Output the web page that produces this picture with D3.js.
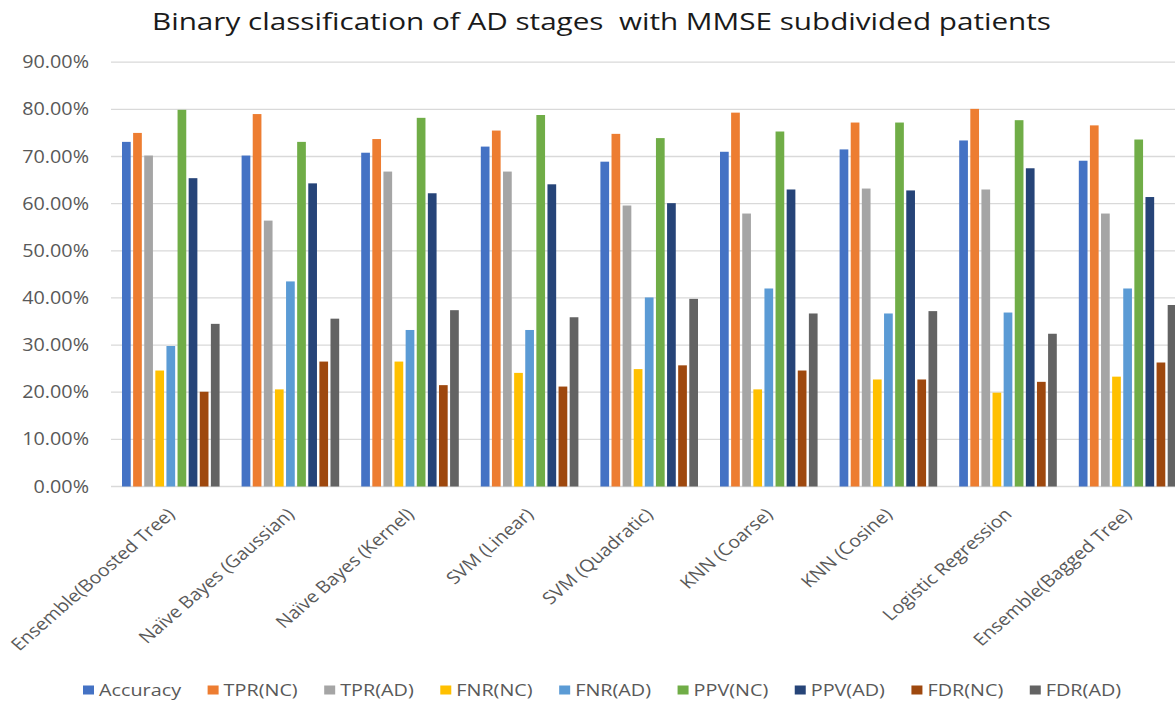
<!DOCTYPE html>
<html><head><meta charset="utf-8">
<script src="https://cdn.jsdelivr.net/npm/d3@7"></script>
<style>body{margin:0;background:#fff;} svg{display:block;} text{white-space:pre;}</style>
</head><body>
<svg id="chart" width="1175" height="705"></svg>
<script>
const categories = ["Ensemble(Boosted Tree)","Naïve Bayes (Gaussian)","Naïve Bayes (Kernel)","SVM (Linear)","SVM (Quadratic)","KNN (Coarse)","KNN (Cosine)","Logistic Regression","Ensemble(Bagged Tree)"];
const seriesNames = ["Accuracy","TPR(NC)","TPR(AD)","FNR(NC)","FNR(AD)","PPV(NC)","PPV(AD)","FDR(NC)","FDR(AD)"];
const seriesColors = ["#4472C4","#ED7D31","#A5A5A5","#FFC000","#5B9BD5","#70AD47","#264478","#9E480E","#636363"];
const accuracy = [73.1,70.2,70.8,72.1,68.9,71.0,71.5,73.4,69.1];
const tprNC    = [75.0,79.0,73.7,75.5,74.8,79.3,77.2,80.1,76.6];
const tprAD    = [70.2,56.4,66.8,66.8,59.6,57.9,63.2,63.0,57.9];
const fnrNC    = [24.6,20.6,26.5,24.1,24.9,20.6,22.7,19.9,23.3];
const fnrAD    = [29.8,43.5,33.2,33.2,40.1,42.0,36.7,36.9,42.0];
const ppvNC    = [79.9,73.1,78.2,78.8,73.9,75.3,77.2,77.7,73.6];
const ppvAD    = [65.4,64.3,62.2,64.1,60.1,63.0,62.8,67.5,61.4];
const fdrNC    = [20.1,26.5,21.5,21.2,25.7,24.6,22.7,22.2,26.3];
const fdrAD    = [34.5,35.6,37.4,35.9,39.8,36.7,37.2,32.4,38.5];
const yTicks = [0,10,20,30,40,50,60,70,80,90];
const title = "Binary classification of AD stages  with MMSE subdivided patients";

const seriesValues = [accuracy,tprNC,tprAD,fnrNC,fnrAD,ppvNC,ppvAD,fdrNC,fdrAD];

const svg = d3.select("#chart");
const font = "'Open Sans', 'Noto Sans', sans-serif";
const textColor = "#595959";
const plotLeft = 111, plotBottom = 486.5, plotTop = 62.2;
const x = d3.scaleBand().domain(categories).range([plotLeft, plotLeft + 9*119.6]).paddingInner(0.164).paddingOuter(0.082);
const xs = d3.scaleBand().domain(seriesNames).range([0, x.bandwidth()]);
const y = d3.scaleLinear().domain([0,90]).range([plotBottom, plotTop]);

// gridlines
svg.append("g").selectAll("line").data(yTicks).join("line")
  .attr("x1", plotLeft).attr("x2", 1190)
  .attr("y1", d=>y(d)).attr("y2", d=>y(d))
  .attr("stroke","#d9d9d9").attr("stroke-width",1.3);

// y axis labels (horizontally stretched like the reference)
const yAxis = d3.axisLeft(y).tickValues(yTicks).tickSize(0).tickPadding(0)
  .tickFormat(d => d.toFixed(2) + "%");
const ya = svg.append("g").attr("transform","translate(89,0)").call(yAxis);
ya.select(".domain").remove();
ya.selectAll("text").attr("font-family",font).attr("font-size","17.5px").attr("fill",textColor)
  .attr("transform","scale(1.13,1)");

// bars
const groups = svg.append("g").selectAll("g").data(categories).join("g")
  .attr("transform", d => `translate(${x(d)},0)`);
groups.selectAll("rect").data((c,i) => seriesNames.map((s,j)=>({s, v: seriesValues[j][i], j})))
  .join("rect")
  .attr("x", d => xs(d.s) + 1.2)
  .attr("width", xs.bandwidth() - 2.4)
  .attr("y", d => y(d.v))
  .attr("height", d => plotBottom - y(d.v))
  .attr("fill", d => seriesColors[d.j]);

// x labels
svg.append("g").selectAll("text").data(categories).join("text")
  .attr("transform", d => `translate(${x(d) + x.bandwidth()/2 + 5},${plotBottom + 29}) scale(1.15,1) rotate(-45)`)
  .attr("text-anchor","end")
  .attr("font-family",font).attr("font-size","17px").attr("fill",textColor)
  .text(d=>d);

// title
svg.append("text").attr("x", 152).attr("y", 29.5)
  .attr("font-family",font).attr("font-size","23.5px").attr("fill","#1a1a1a")
  .attr("textLength", 899).attr("lengthAdjust","spacingAndGlyphs")
  .text(title);

// legend
const lg = svg.append("g");
const items = lg.selectAll("g").data(seriesNames).join("g");
items.append("rect").attr("width",11).attr("height",9).attr("y",-4.5).attr("fill",(d,i)=>seriesColors[i]);
items.append("text").attr("transform","translate(16,0) scale(1.2,1)").attr("dy","0.35em")
  .attr("font-family",font).attr("font-size","16.5px").attr("fill",textColor).text(d=>d);
let cx = 0; const offs = [];
items.each(function(){ const w = this.querySelector("text").getComputedTextLength()*1.2; offs.push(cx); cx += 16 + w + 26.5; });
const legendStart = 83;
items.attr("transform",(d,i)=>`translate(${legendStart + offs[i]},690)`);
</script>
</body></html>
